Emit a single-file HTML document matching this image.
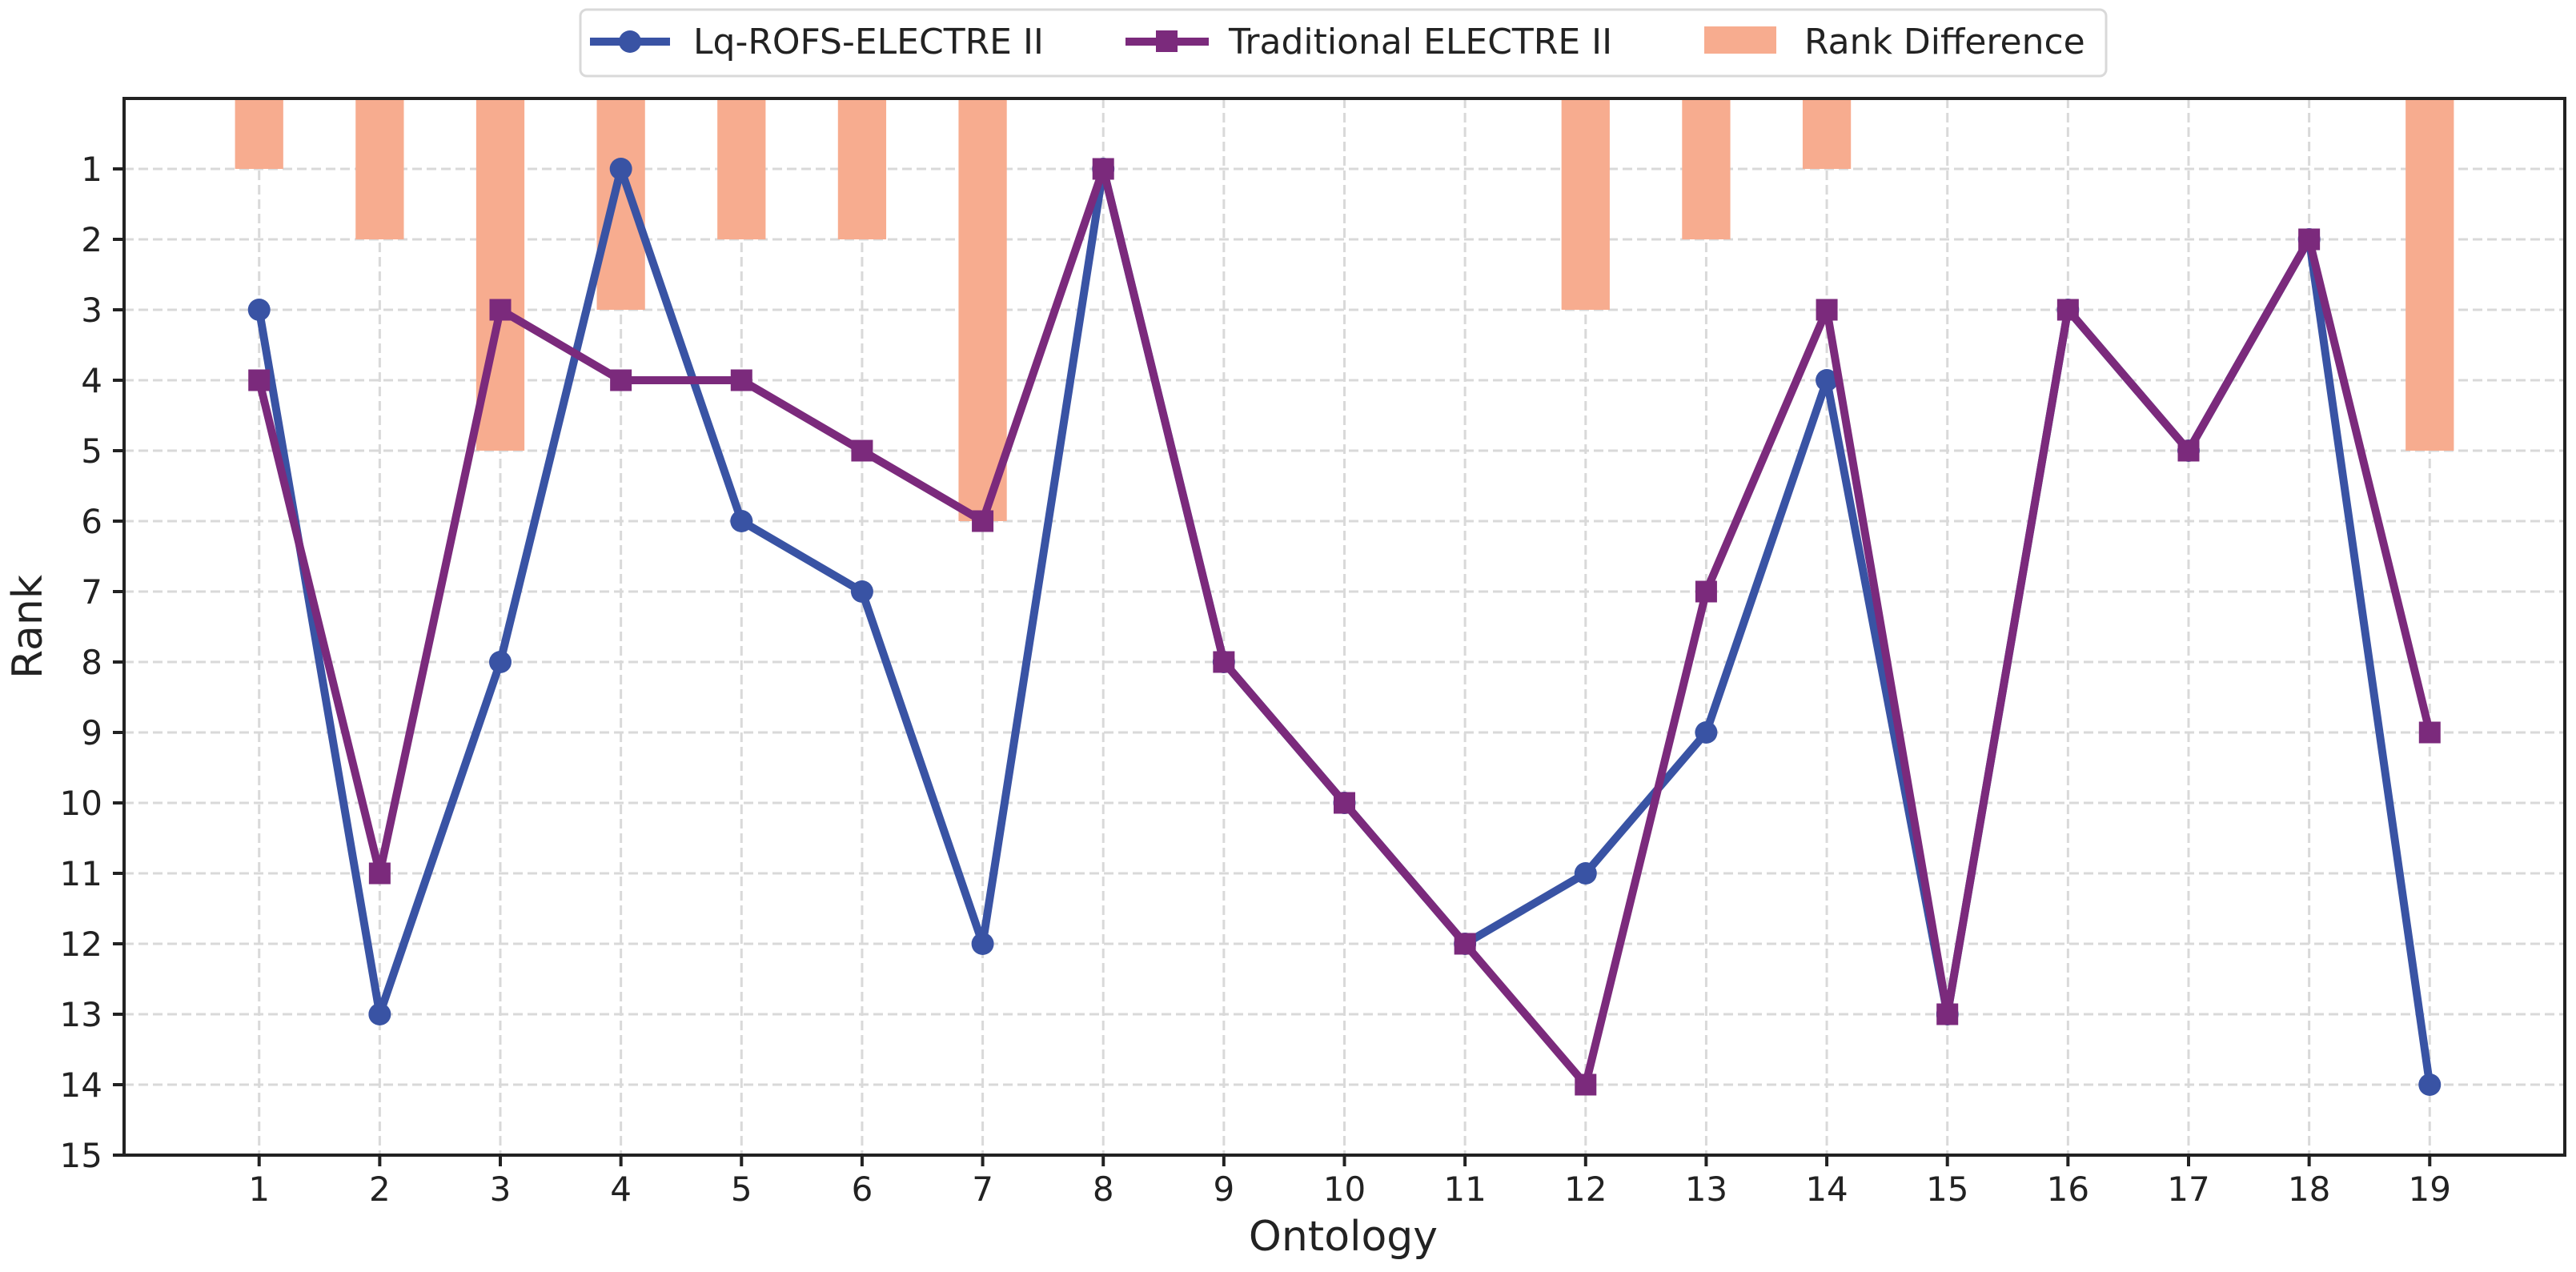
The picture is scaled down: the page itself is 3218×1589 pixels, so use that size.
<!DOCTYPE html>
<html><head><meta charset="utf-8"><style>
html,body{margin:0;padding:0;background:#fff;}
svg{display:block;font-family:"DejaVu Sans","Liberation Sans",sans-serif;}
</style></head><body>
<svg id="chart" width="3218" height="1589" viewBox="0 0 3218 1589" xmlns="http://www.w3.org/2000/svg">
<rect x="155" y="123" width="3049" height="1320" fill="#fff"/>
<g id="grid"></g>
<g id="bars"></g>
<g id="lines"></g>
<rect x="155" y="123" width="3049" height="1320" fill="none" stroke="#222" stroke-width="4"/>
<g id="ticks"></g>
<text x="1678" y="1562" font-size="52" text-anchor="middle" fill="#222">Ontology</text>
<text transform="translate(52,783) rotate(-90)" font-size="52" text-anchor="middle" fill="#222">Rank</text>
<g>
<rect x="725" y="12" width="1906" height="83" rx="8" fill="#fff" stroke="#d9d9d9" stroke-width="3"/>
<g>
<line x1="737" y1="52" x2="837" y2="52" stroke="#3953a4" stroke-width="10"/>
<circle cx="787" cy="52" r="14" fill="#3953a4"/>
<text x="866" y="67" font-size="44" fill="#222">Lq-ROFS-ELECTRE II</text></g>
<g>
<line x1="1406" y1="52" x2="1510" y2="52" stroke="#7b2a7c" stroke-width="10"/>
<rect x="1444" y="38" width="27" height="27" fill="#7b2a7c"/>
<text x="1535" y="67" font-size="44" fill="#222">Traditional ELECTRE II</text></g>
<g>
<rect x="2129" y="33" width="90" height="34" fill="#f7ac8f"/>
<text x="2254" y="67" font-size="44" fill="#222">Rank Difference</text></g>
</g>
</svg>
<script>
const categories = [1,2,3,4,5,6,7,8,9,10,11,12,13,14,15,16,17,18,19];
const lqRanks = [3,13,8,1,6,7,12,1,8,10,12,11,9,4,13,3,5,2,14];
const tradRanks = [4,11,3,4,4,5,6,1,8,10,12,14,7,3,13,3,5,2,9];
const rankDiff = [1,2,5,3,2,2,6,0,0,0,0,3,2,1,0,0,0,0,5];
const yTicks = [1,2,3,4,5,6,7,8,9,10,11,12,13,14,15];

const NS = "http://www.w3.org/2000/svg";
const X0 = 155, X1 = 3204, Y0 = 123, Y1 = 1443;
const xMin = -0.12, xMax = 20.12, yMin = 0, yMax = 15;
function xs(v){ return X0 + (v - xMin) / (xMax - xMin) * (X1 - X0); }
function ys(v){ return Y0 + (v - yMin) / (yMax - yMin) * (Y1 - Y0); }
function mk(tag, attrs, parent){
  const e = document.createElementNS(NS, tag);
  for (const k in attrs) e.setAttribute(k, attrs[k]);
  parent.appendChild(e); return e;
}
const grid = document.getElementById('grid');
const bars = document.getElementById('bars');
const lines = document.getElementById('lines');
const ticks = document.getElementById('ticks');

yTicks.forEach(t => {
  const g = mk('line', {x1:X0, x2:X1, y1:ys(t), y2:ys(t), stroke:'#d9d9d9', 'stroke-width':3, 'stroke-dasharray':'12,6'}, grid);
  
  
  const tk = mk('line', {x1:X0-14, x2:X0, y1:ys(t), y2:ys(t), stroke:'#222', 'stroke-width':4}, ticks);
  
  
  const tl = mk('text', {x:X0-27, y:ys(t)+15, 'font-size':42, 'text-anchor':'end', fill:'#222'}, ticks);
  tl.textContent = t;
  
  
});
categories.forEach(c => {
  const g = mk('line', {x1:xs(c), x2:xs(c), y1:Y0, y2:Y1, stroke:'#d9d9d9', 'stroke-width':3, 'stroke-dasharray':'12,6'}, grid);
  
  
  const tk = mk('line', {x1:xs(c), x2:xs(c), y1:Y1, y2:Y1+14, stroke:'#222', 'stroke-width':4}, ticks);
  
  
  const tl = mk('text', {x:xs(c), y:1500, 'font-size':42, 'text-anchor':'middle', fill:'#222'}, ticks);
  tl.textContent = c;
  
  
});
categories.forEach((c, i) => {
  if (rankDiff[i] <= 0) return;
  const b = mk('rect', {x:xs(c-0.2), y:ys(0), width:xs(c+0.2)-xs(c-0.2), height:ys(rankDiff[i])-ys(0), fill:'#f7ac8f'}, bars);
  
  
});
function series(vals, color, marker, name){
  const pts = categories.map((c, i) => xs(c) + ',' + ys(vals[i])).join(' ');
  const pl = mk('polyline', {points:pts, fill:'none', stroke:color, 'stroke-width':10, 'stroke-linejoin':'round'}, lines);
  
  
  categories.forEach((c, i) => {
    let m;
    if (marker === 'circle') m = mk('circle', {cx:xs(c), cy:ys(vals[i]), r:14, fill:color}, lines);
    else m = mk('rect', {x:xs(c)-13.5, y:ys(vals[i])-13.5, width:27, height:27, fill:color}, lines);
    
    
  });
}
series(lqRanks, '#3953a4', 'circle', 'lq-rofs');
series(tradRanks, '#7b2a7c', 'square', 'traditional');
</script>
</body></html>
